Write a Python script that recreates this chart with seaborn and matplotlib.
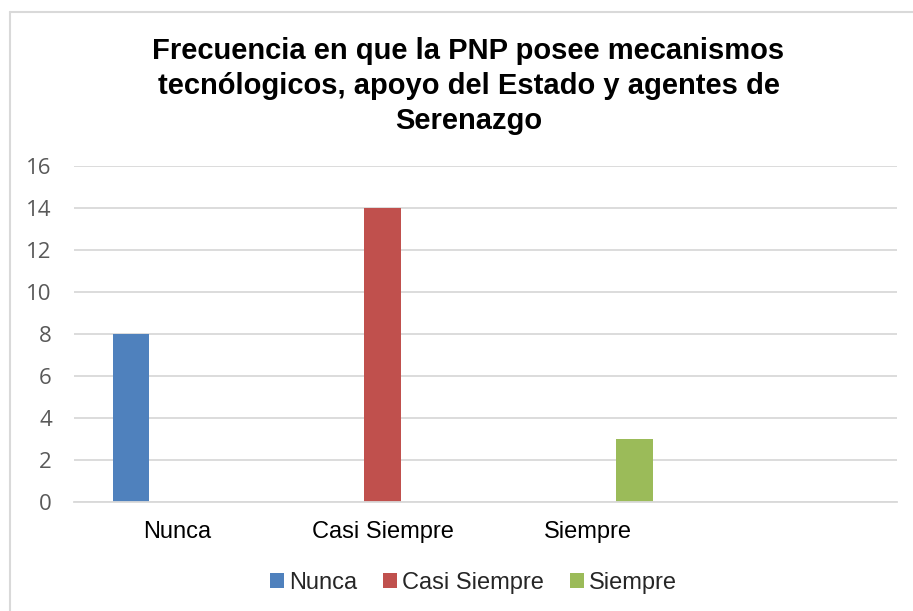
import matplotlib
matplotlib.use("Agg")
import matplotlib.pyplot as plt
import seaborn as sns
import pandas as pd
from matplotlib.lines import Line2D
from matplotlib.patches import Patch

categories = ["Nunca", "Casi Siempre", "Siempre", ""]
series = ["Nunca", "Casi Siempre", "Siempre"]
values = [8, 14, 3]
colors = ["#4F81BD", "#C0504D", "#9BBB59"]
title = "Frecuencia en que la PNP posee mecanismos\ntecnólogicos, apoyo del Estado y agentes de\nSerenazgo"

df = pd.DataFrame({"categoria": series, "serie": series, "valor": values})

sns.set_theme(style="white")
plt.rcParams["font.family"] = ["Liberation Sans", "DejaVu Sans"]

W, H = 913, 611
fig = plt.figure(figsize=(W / 100, H / 100), dpi=100)
ax = fig.add_axes([74 / W, 1 - 502 / H, (897 - 74) / W, (502 - 166) / H])

sns.barplot(data=df, x="categoria", y="valor", hue="serie", order=categories,
            hue_order=series, palette=colors, dodge=True, width=0.67, gap=0.2,
            saturation=1, ax=ax, legend=False, errorbar=None, linewidth=0)

ax.set_ylim(0, 16)
ax.set_yticks(range(0, 17, 2))
ax.set_xlim(-0.5, 3.5)
ax.yaxis.grid(True, color="#D9D9D9", linewidth=1.3)
ax.set_axisbelow(True)
for s in ["top", "right", "left"]:
    ax.spines[s].set_visible(False)
ax.spines["bottom"].set_color("#D9D9D9")
ax.spines["bottom"].set_linewidth(1.3)
ax.set_xlabel("")
ax.set_ylabel("")
ax.tick_params(axis="y", length=0, pad=16, labelsize=16, labelcolor="#595959")
for lab in ax.get_yticklabels():
    lab.set_family(["Open Sans", "DejaVu Sans"])
ax.tick_params(axis="x", length=0, pad=14, labelsize=17, labelcolor="#000000")

fig.text(0.5 + 12 / W, 1 - 86 / H, title, ha="center", va="center",
         fontsize=21, fontweight="bold", color="#000000", linespacing=1.3)

handles = [Patch(facecolor=c, edgecolor="none") for c in colors]
fig.legend(handles, series, loc="center", bbox_to_anchor=(0.5 + 17 / W, 1 - 583 / H),
           ncol=3, frameon=False, fontsize=17, handlelength=0.6, handleheight=0.6,
           handletextpad=0.2, columnspacing=1.1)

fig.add_artist(Line2D([10 / W, 10 / W], [0, 1 - 12 / H], transform=fig.transFigure,
                      color="#D9D9D9", linewidth=1.5))
fig.add_artist(Line2D([10 / W, 1], [1 - 12 / H, 1 - 12 / H], transform=fig.transFigure,
                      color="#D9D9D9", linewidth=1.5))

fig.savefig("out.png", dpi=100)
